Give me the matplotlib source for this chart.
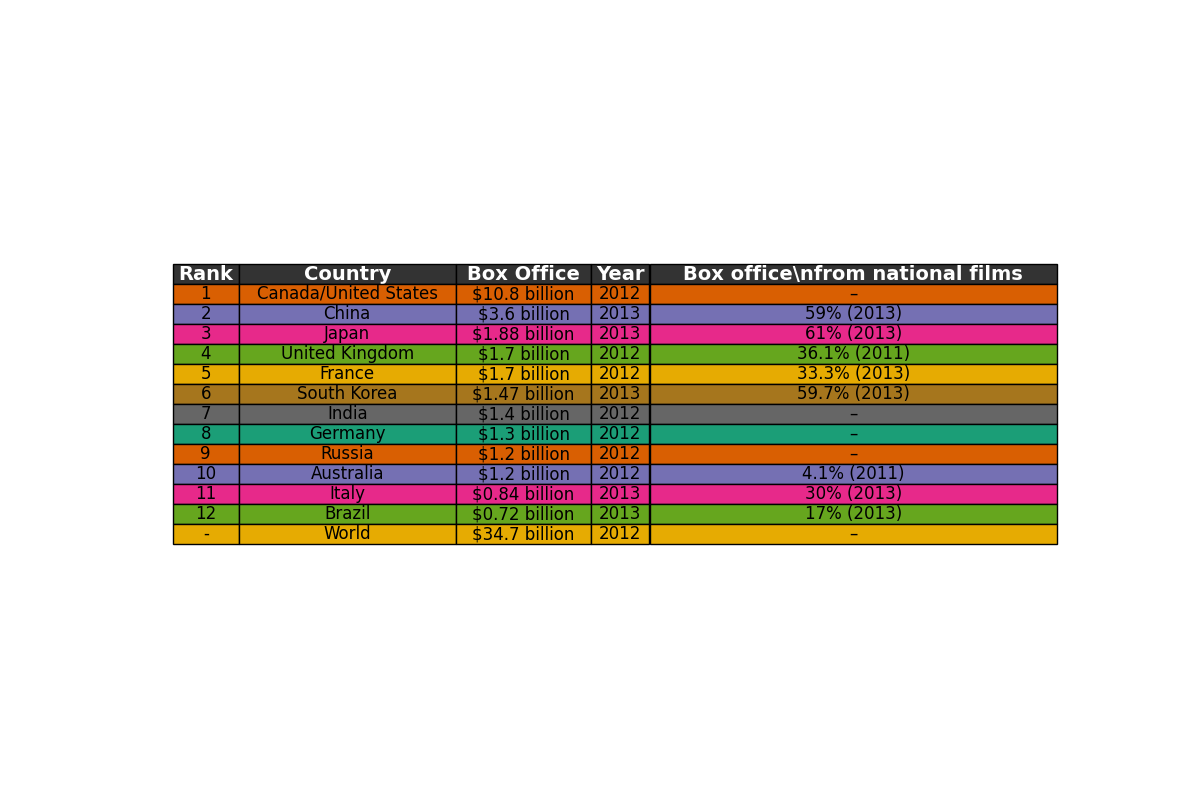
import matplotlib
matplotlib.use("Agg")
import matplotlib.pyplot as plt

# table data
headers = ["Rank", "Country", "Box Office", "Year", "Box office\\nfrom national films"]
ranks = ["1", "2", "3", "4", "5", "6", "7", "8", "9", "10", "11", "12", "-"]
countries = ["Canada/United States", "China", "Japan", "United Kingdom", "France",
             "South Korea", "India", "Germany", "Russia", "Australia", "Italy",
             "Brazil", "World"]
box_office = ["$10.8 billion", "$3.6 billion", "$1.88 billion", "$1.7 billion",
              "$1.7 billion", "$1.47 billion", "$1.4 billion", "$1.3 billion",
              "$1.2 billion", "$1.2 billion", "$0.84 billion", "$0.72 billion",
              "$34.7 billion"]
years = ["2012", "2013", "2013", "2012", "2012", "2013", "2012", "2012",
         "2012", "2012", "2013", "2013", "2012"]
national = ["–", "59% (2013)", "61% (2013)", "36.1% (2011)", "33.3% (2013)",
            "59.7% (2013)", "–", "–", "–", "4.1% (2011)", "30% (2013)",
            "17% (2013)", "–"]

rows = [list(r) for r in zip(ranks, countries, box_office, years, national)]

dark2 = plt.get_cmap("Dark2").colors

fig, ax = plt.subplots(figsize=(12, 8), dpi=100)
ax.axis("off")

tbl = ax.table(cellText=rows, colLabels=headers, loc="center", cellLoc="center")
tbl.auto_set_font_size(False)
tbl.set_fontsize(12)
tbl.scale(1, 1.2)

for (r, c), cell in tbl.get_celld().items():
    cell.set_edgecolor("black")
    if r == 0:
        cell.set_facecolor("#333333")
        cell.get_text().set_color("white")
        cell.get_text().set_fontweight("bold")
        cell.get_text().set_fontsize(14)
    else:
        cell.set_facecolor(dark2[r % 8])

# widths worked out at draw time, after header font is set
tbl.auto_set_column_width(list(range(len(headers))))

plt.savefig("out.png", dpi=100)
